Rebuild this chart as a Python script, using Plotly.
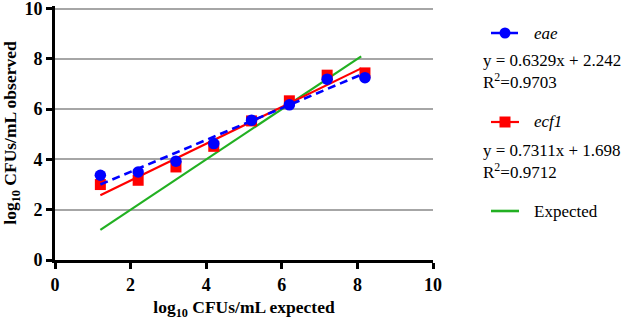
import plotly.graph_objects as go

x_expected = [1.2, 2.2, 3.2, 4.2, 5.2, 6.2, 7.2, 8.2]
eae_obs = [3.37, 3.50, 3.93, 4.63, 5.56, 6.17, 7.19, 7.25]
ecf1_obs = [3.00, 3.17, 3.70, 4.52, 5.53, 6.33, 7.35, 7.44]

eae_slope, eae_intercept, eae_r2 = 0.6329, 2.242, 0.9703
ecf1_slope, ecf1_intercept, ecf1_r2 = 0.7311, 1.698, 0.9712
fit_x = [1.2, 8.1]
expected_line = [1.2, 8.1]
tick_values = [0, 2, 4, 6, 8, 10]

FONT = "Liberation Serif, Times New Roman, serif"
BLUE = "#0000FF"
RED = "#FF0000"
GREEN = "#22B022"

fig = go.Figure()
fig.add_trace(go.Scatter(x=expected_line, y=expected_line, mode="lines",
                         line=dict(color=GREEN, width=2.2), showlegend=False))
fig.add_trace(go.Scatter(x=x_expected, y=ecf1_obs, mode="markers",
                         marker=dict(symbol="square", size=11, color=RED), showlegend=False))
fig.add_trace(go.Scatter(x=fit_x, y=[ecf1_slope * v + ecf1_intercept for v in fit_x], mode="lines",
                         line=dict(color=RED, width=2.2), showlegend=False))
fig.add_trace(go.Scatter(x=fit_x, y=[eae_slope * v + eae_intercept for v in fit_x], mode="lines",
                         line=dict(color=BLUE, width=2.6, dash="8px,5px"), showlegend=False))
fig.add_trace(go.Scatter(x=x_expected, y=eae_obs, mode="markers",
                         marker=dict(symbol="circle", size=11.5, color=BLUE), showlegend=False))

axis_common = dict(
    showline=True, linecolor="black", linewidth=3,
    ticks="outside", ticklen=6, tickwidth=3, tickcolor="black",
    tickfont=dict(family=FONT, size=18, color="black"),
    tickvals=tick_values,
    ticktext=["<b>%d</b>" % v for v in tick_values],
    ticklabeloverflow="allow",
    zeroline=False, automargin=False, fixedrange=True,
)

fig.update_xaxes(**axis_common, range=[0, 10], showgrid=False, domain=[0, 378 / 569],
                 title=dict(text="<b>log<sub>10</sub> CFUs/mL expected</b>",
                            font=dict(family=FONT, size=17.5, color="black"),
                            standoff=10))
fig.update_yaxes(**axis_common, range=[0, 10.1], showgrid=True, gridcolor="#A6A6A6", gridwidth=1.5,
                 title=dict(text="<b>log<sub>10</sub> CFUs/mL observed</b>",
                            font=dict(family=FONT, size=17.5, color="black"),
                            standoff=6))

# Legend built from annotations and shapes (paper spans x 55..624, y 6..260 in pixels)
W, H = 569.0, 254.0
def px(xp):
    return (xp - 55) / W
def py(yp):
    return (260 - yp) / H

LX0, LX1, LXC = 491, 519, 505
shapes = [
    dict(type="line", xref="paper", yref="paper", x0=px(LX0), x1=px(LX1), y0=py(33), y1=py(33),
         line=dict(color=BLUE, width=2.6, dash="dash")),
    dict(type="circle", xref="paper", yref="paper", xsizemode="pixel", ysizemode="pixel",
         xanchor=px(LXC), yanchor=py(33), x0=-5.5, x1=5.5, y0=-5.5, y1=5.5,
         fillcolor=BLUE, line=dict(width=0)),
    dict(type="line", xref="paper", yref="paper", x0=px(LX0), x1=px(LX1), y0=py(122), y1=py(122),
         line=dict(color=RED, width=2.2)),
    dict(type="rect", xref="paper", yref="paper", xsizemode="pixel", ysizemode="pixel",
         xanchor=px(LXC), yanchor=py(122), x0=-5.5, x1=5.5, y0=-5.5, y1=5.5,
         fillcolor=RED, line=dict(width=0)),
    dict(type="line", xref="paper", yref="paper", x0=px(LX0), x1=px(LX1), y0=py(211), y1=py(211),
         line=dict(color=GREEN, width=2.6)),
]
fig.update_layout(shapes=shapes)

def ann(text, xp, yp, italic=False):
    return dict(text=("<i>%s</i>" % text) if italic else text, xref="paper", yref="paper",
                x=px(xp), y=py(yp), xanchor="left", yanchor="middle", showarrow=False,
                font=dict(family=FONT, size=17, color="black"))

annotations = [
    ann("eae", 532, 33, italic=True),
    ann("y = %.4fx + %.3f" % (eae_slope, eae_intercept), 481, 61),
    ann("R<sup>2</sup>=%.4f" % eae_r2, 481, 81),
    ann("ecf1", 532, 122, italic=True),
    ann("y = %.4fx + %.3f" % (ecf1_slope, ecf1_intercept), 481, 150),
    ann("R<sup>2</sup>=%.4f" % ecf1_r2, 481, 171),
    ann("Expected", 532, 211),
]
fig.update_layout(annotations=annotations)

fig.update_layout(
    width=624, height=320,
    font=dict(family=FONT, color="black"),
    margin=dict(l=55, r=0, t=6, b=60, autoexpand=False),
    plot_bgcolor="white", paper_bgcolor="white",
    showlegend=False,
)

fig.write_html("out.html", config={"displayModeBar": False},
               post_script="document.body.style.margin='0';document.body.style.overflow='hidden';")
